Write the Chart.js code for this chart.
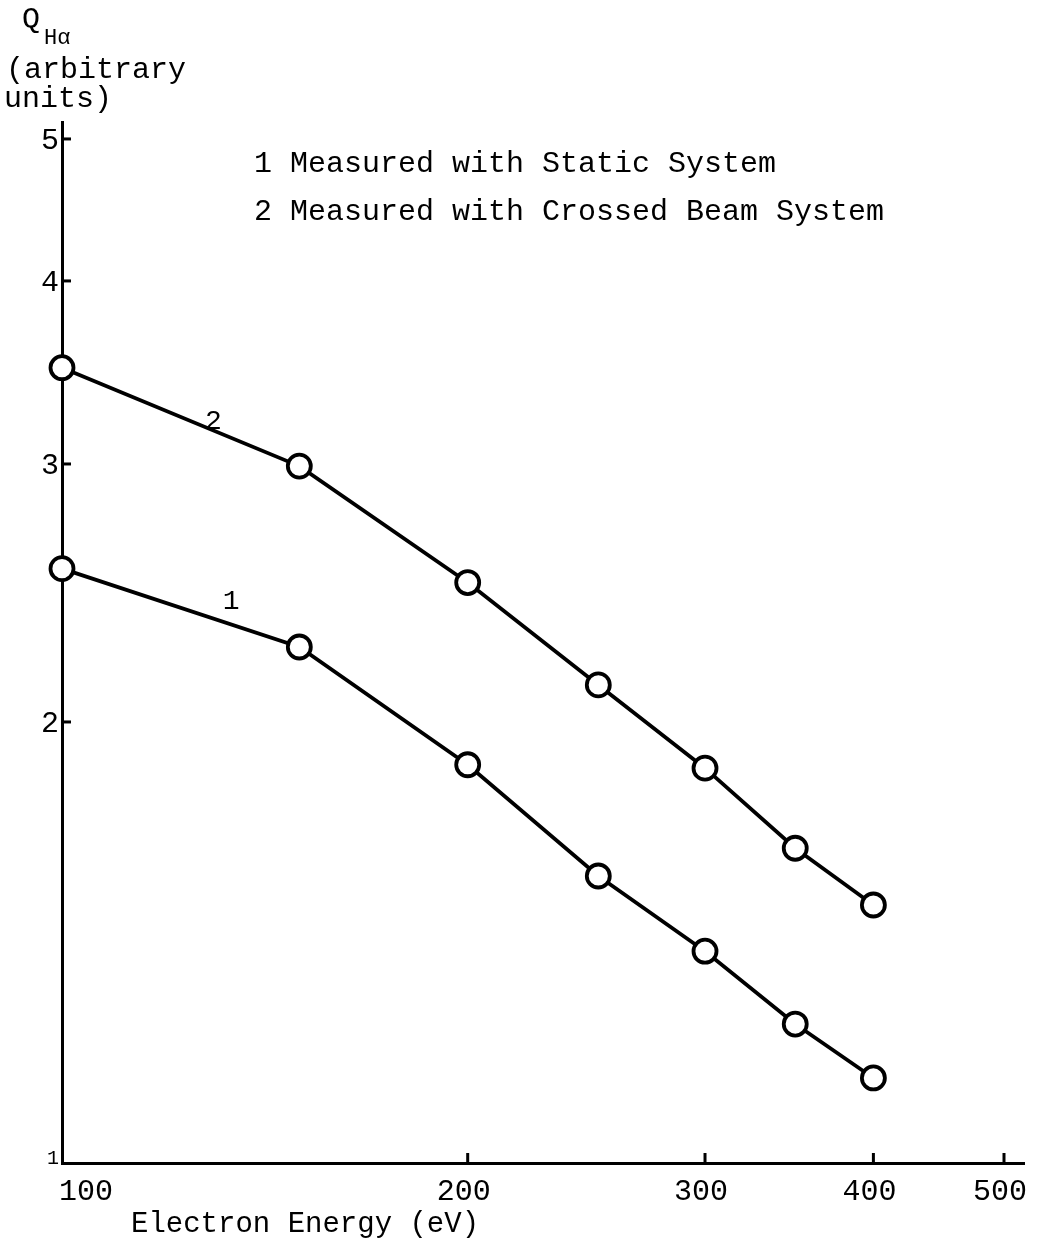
<!DOCTYPE html>
<html>
<head>
<meta charset="utf-8">
<script src="https://cdn.jsdelivr.net/npm/chart.js@4/dist/chart.umd.min.js"></script>
<style>
  html, body { margin: 0; padding: 0; background: #fff; }
  #c { display: block; }
</style>
</head>
<body>
<canvas id="c" width="1040" height="1239"></canvas>
<script>
// Electron energy (eV) and measured H-alpha emission cross sections (arbitrary units)
const energies     = [100, 150, 200, 250, 300, 350, 400];
const staticSystem = [2.545, 2.25, 1.87, 1.57, 1.395, 1.244, 1.143];
const crossedBeam  = [3.49, 2.99, 2.49, 2.12, 1.86, 1.64, 1.50];

// Axis tick labels
const xTickValues = [100, 200, 300, 400, 500];
const yTickValues = [1, 2, 3, 4, 5];

// Key text and curve numbers
const keyLines    = ['1 Measured with Static System', '2 Measured with Crossed Beam System'];
const curveNames  = ['1', '2'];

const INK = '#000';
const FONT = '"Liberation Mono", "Courier New", monospace';

function toPoints(xs, ys) {
  return xs.map((x, i) => ({ x: x, y: ys[i] }));
}

const seriesStyle = {
  borderColor: INK,
  borderWidth: 3.8,
  pointRadius: 11.5,
  pointHoverRadius: 11.5,
  pointBorderWidth: 3.8,
  pointBorderColor: INK,
  pointBackgroundColor: '#fff',
  tension: 0,
  fill: false,
  clip: false
};

// Draws inward tick marks, tick labels, axis titles, the key and curve numbers
const typewriterAnnotations = {
  id: 'typewriterAnnotations',
  afterDraw(chart) {
    const { ctx, chartArea, scales } = chart;
    const xs = scales.x, ys = scales.y;
    ctx.save();
    ctx.fillStyle = INK;
    ctx.strokeStyle = INK;
    ctx.lineWidth = 3;

    // inward ticks on the y axis
    yTickValues.slice(1).forEach(v => {
      const py = ys.getPixelForValue(v);
      ctx.beginPath();
      ctx.moveTo(chartArea.left, py);
      ctx.lineTo(chartArea.left + 9, py);
      ctx.stroke();
    });
    // inward ticks on the x axis
    xTickValues.slice(1).forEach(v => {
      const px = xs.getPixelForValue(v);
      ctx.beginPath();
      ctx.moveTo(px, chartArea.bottom);
      ctx.lineTo(px, chartArea.bottom - 10);
      ctx.stroke();
    });

    // y tick labels
    ctx.textAlign = 'right';
    ctx.textBaseline = 'middle';
    yTickValues.forEach(v => {
      let py = ys.getPixelForValue(v);
      if (v === 1) {
        ctx.font = '20px ' + FONT;
        py -= 6;
      } else {
        ctx.font = '30px ' + FONT;
      }
      ctx.fillText(String(v), chartArea.left - 3, py + 2);
    });

    // x tick labels
    ctx.font = '30px ' + FONT;
    ctx.textBaseline = 'alphabetic';
    xTickValues.forEach((v, i) => {
      const px = xs.getPixelForValue(v);
      if (i === 0) {
        ctx.textAlign = 'left';
        ctx.fillText(String(v), px - 3, chartArea.bottom + 37);
      } else {
        ctx.textAlign = 'center';
        ctx.fillText(String(v), px - 4, chartArea.bottom + 37);
      }
    });

    // x axis title
    ctx.font = '29px ' + FONT;
    ctx.textAlign = 'left';
    ctx.fillText('Electron Energy (eV)', 131, chartArea.bottom + 69);

    // y axis title
    ctx.font = '30px ' + FONT;
    ctx.fillText('Q', 22, 28);
    ctx.font = '22px ' + FONT;
    ctx.fillText('H\u03B1', 44, 44);
    ctx.font = '30px ' + FONT;
    ctx.fillText('(arbitrary', 6, 78);
    ctx.fillText('units)', 4, 107);

    // key
    ctx.fillText(keyLines[0], 254, 172);
    ctx.fillText(keyLines[1], 254, 220);

    // curve numbers next to their lines
    ctx.font = '28px ' + FONT;
    ctx.textAlign = 'center';
    ctx.fillText(curveNames[0], xs.getPixelForValue(133.5), ys.getPixelForValue(2.39));
    ctx.fillText(curveNames[1], xs.getPixelForValue(129.5), ys.getPixelForValue(3.17));

    ctx.restore();
  }
};

new Chart(document.getElementById('c'), {
  type: 'line',
  data: {
    datasets: [
      Object.assign({ label: keyLines[0], data: toPoints(energies, staticSystem) }, seriesStyle),
      Object.assign({ label: keyLines[1], data: toPoints(energies, crossedBeam) }, seriesStyle)
    ]
  },
  options: {
    responsive: false,
    animation: false,
    devicePixelRatio: 1,
    layout: { padding: { left: 62, top: 122, right: 10, bottom: 76 } },
    plugins: {
      legend: { display: false },
      tooltip: { enabled: false },
      title: { display: false }
    },
    scales: {
      x: {
        type: 'logarithmic',
        min: 100,
        max: 518,
        grid: { display: false, drawTicks: false },
        border: { display: true, color: INK, width: 3 },
        ticks: { display: false },
        afterFit(scale) { scale.height = 0; }
      },
      y: {
        type: 'logarithmic',
        min: 1,
        max: 5.135,
        grid: { display: false, drawTicks: false },
        border: { display: true, color: INK, width: 3 },
        ticks: { display: false },
        afterFit(scale) { scale.width = 0; }
      }
    }
  },
  plugins: [typewriterAnnotations]
});
</script>
</body>
</html>
